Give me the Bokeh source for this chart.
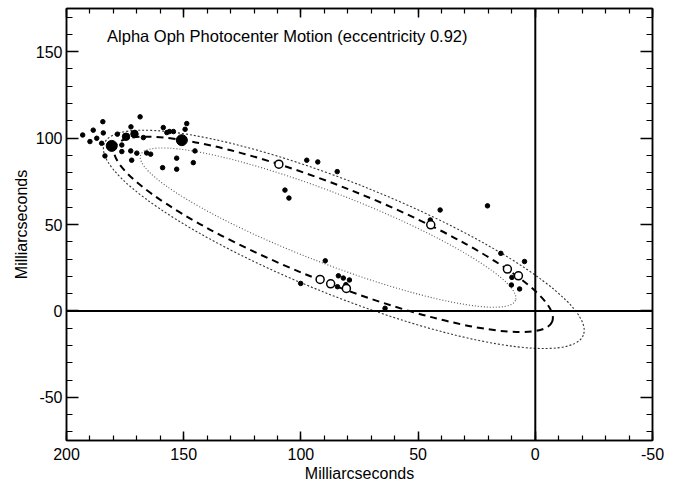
from bokeh.plotting import figure
from bokeh.models import (Range1d, LinearAxis, SingleIntervalTicker, Span, Label,
                          CustomJSTickFormatter)
from bokeh.embed import file_html
from bokeh.resources import INLINE

# ---------------- data ----------------
title_text = "Alpha Oph Photocenter Motion (eccentricity 0.92)"
x_label = "Milliarcseconds"
y_label = "Milliarcseconds"

# individual measurements (filled dots)
dot_x = [193.1, 188.6, 190.0, 187.1, 184.5, 184.3, 185.0, 183.6, 178.3, 176.4,
         172.5, 168.6, 167.2, 176.4, 172.6, 170.0, 165.8, 164.1, 172.2, 158.7,
         157.2, 156.1, 154.4, 148.7, 149.4, 153.0, 159.0, 153.0, 145.9, 145.2,
         97.5, 92.8, 84.5, 106.8, 105.1, 89.6, 100.1, 84.0, 81.9, 79.3,
         84.4, 80.8, 64.1, 40.6, 20.4, 44.8, 14.7, 4.6, 10.0, 10.2, 6.7]
dot_y = [101.8, 104.6, 98.0, 99.9, 109.5, 103.0, 97.0, 89.7, 102.3, 96.0,
         106.5, 112.3, 100.3, 92.2, 92.6, 91.3, 91.4, 90.7, 87.2, 106.1,
         103.2, 103.8, 103.8, 108.4, 105.1, 88.4, 82.9, 82.0, 85.8, 92.6,
         87.2, 86.2, 80.6, 69.9, 65.3, 29.0, 15.9, 20.3, 19.0, 17.9,
         14.0, 15.2, 1.5, 58.4, 60.8, 52.6, 33.3, 28.6, 19.4, 15.0, 12.7]

# clustered measurements (large blobs)
blob_x = [180.7, 150.8]
blob_y = [95.5, 98.8]
cluster_x = [174.6, 171.0]
cluster_y = [100.8, 102.4]

# normal points (open circles)
open_x = [109.4, 44.6, 11.9, 7.2, 91.8, 87.3, 80.6]
open_y = [84.9, 49.8, 24.2, 20.3, 18.2, 15.7, 13.0]

# orbit ellipses: envelope (outer), fitted orbit, envelope (inner)
ell_x = [81.7, 86.1, 88.4]
ell_y = [41.4, 44.3, 48.2]
ell_w = [220.1, 200.9, 171.5]
ell_h = [65.3, 55.0, 40.5]
ell_angle = [-0.3805, -0.3794, -0.370]

# ---------------- figure ----------------
FONT = "Liberation Sans"
p = figure(frame_width=586, frame_height=432,
           x_range=Range1d(200, -50), y_range=Range1d(-75, 175),
           output_backend="svg", toolbar_location=None,
           min_border_left=66, min_border_right=22, min_border_top=8,
           min_border_bottom=0, background_fill_color="white",
           border_fill_color="white")
p.xgrid.visible = False
p.ygrid.visible = False
p.outline_line_color = "black"
p.outline_line_width = 1.5

top_axis = LinearAxis()
right_axis = LinearAxis()
p.add_layout(top_axis, "above")
p.add_layout(right_axis, "right")


def style_axis(ax, major_in, minor_in, labels):
    ax.ticker = SingleIntervalTicker(interval=50, num_minor_ticks=5)
    ax.axis_line_color = "black"
    ax.axis_line_width = 1.5
    ax.major_tick_in = major_in
    ax.major_tick_out = 0
    ax.minor_tick_in = minor_in
    ax.minor_tick_out = 0
    ax.major_tick_line_color = "black"
    ax.minor_tick_line_color = "black"
    ax.major_tick_line_width = 1.5
    ax.minor_tick_line_width = 1.2
    if labels:
        ax.formatter = CustomJSTickFormatter(code="return String(tick)")
        ax.major_label_text_font = FONT
        ax.major_label_text_font_size = "16px"
        ax.major_label_text_color = "black"
        ax.axis_label_text_font = FONT
        ax.axis_label_text_font_size = "16px"
        ax.axis_label_text_font_style = "normal"
        ax.axis_label_text_color = "black"
    else:
        ax.formatter = CustomJSTickFormatter(code="return ''")
        ax.major_label_standoff = 0


bottom_axis = p.below[0]
left_axis = p.left[0]
style_axis(bottom_axis, 9, 5, True)
style_axis(top_axis, 9, 5, False)
style_axis(left_axis, 12, 6, True)
style_axis(right_axis, 12, 6, False)
bottom_axis.axis_label = x_label
bottom_axis.major_label_standoff = 7
bottom_axis.axis_label_standoff = 2
left_axis.axis_label = y_label
left_axis.major_label_standoff = 4
left_axis.axis_label_standoff = 3

# zero lines
p.add_layout(Span(location=0, dimension="width", line_color="black", line_width=2))
p.add_layout(Span(location=0, dimension="height", line_color="black", line_width=2))

# envelopes (dotted) and orbit (dashed)
p.ellipse(x=[ell_x[0]], y=[ell_y[0]], width=[ell_w[0]], height=[ell_h[0]],
          angle=[ell_angle[0]], fill_color=None, line_color="#333333",
          line_width=1.1, line_dash="2 2")
p.ellipse(x=[ell_x[2]], y=[ell_y[2]], width=[ell_w[2]], height=[ell_h[2]],
          angle=[ell_angle[2]], fill_color=None, line_color="#555555",
          line_width=1.1, line_dash="1 2")
p.ellipse(x=[ell_x[1]], y=[ell_y[1]], width=[ell_w[1]], height=[ell_h[1]],
          angle=[ell_angle[1]], fill_color=None, line_color="black",
          line_width=2, line_dash="7 5")

# measurements
p.scatter(dot_x, dot_y, marker="circle", size=4.5, color="black")
p.scatter(cluster_x, cluster_y, marker="circle", size=7.5, color="black")
p.scatter(blob_x, blob_y, marker="circle", size=11, color="black")
p.scatter(open_x, open_y, marker="circle", size=8, fill_color="white",
          line_color="black", line_width=1.5)

p.add_layout(Label(x=182.7, y=159.3, text=title_text, text_font=FONT,
                   text_font_size="16.5px", text_color="black",
                   text_baseline="alphabetic"))

open("out.html", "w").write(file_html(p, INLINE))
